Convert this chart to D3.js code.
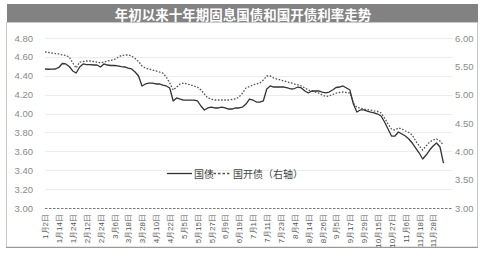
<!DOCTYPE html>
<html><head><meta charset="utf-8">
<script src="https://cdn.jsdelivr.net/npm/d3@7"></script>
<style>
html,body{margin:0;padding:0;background:#fff;}
svg{display:block;font-family:"Noto Sans CJK SC","Noto Sans",sans-serif;}
</style></head>
<body><svg id="c" width="488" height="256"></svg>
<script>
const title = "年初以来十年期固息国债和国开债利率走势";
const seriesNames = ["国债", "国开债（右轴）"];
const leftTicks = [4.80, 4.60, 4.40, 4.20, 4.00, 3.80, 3.60, 3.40, 3.20, 3.00];
const rightTicks = [6.00, 5.50, 5.00, 4.50, 4.00, 3.50, 3.00];
const dateLabels = ["1月2日","1月14日","1月24日","2月12日","2月24日","3月6日","3月18日","3月28日","4月10日","4月22日","5月5日","5月15日","5月27日","6月9日","6月19日","7月1日","7月11日","7月23日","8月4日","8月14日","8月26日","9月5日","9月17日","9月29日","10月15日","10月27日","11月6日","11月18日","11月28日"];
const govBond = [4.472,4.469,4.470,4.472,4.488,4.530,4.525,4.498,4.451,4.429,
4.493,4.525,4.519,4.519,4.514,4.514,4.493,4.525,4.514,4.509,
4.509,4.504,4.498,4.493,4.482,4.472,4.440,4.398,4.292,4.313,
4.323,4.323,4.313,4.313,4.302,4.292,4.271,4.133,4.165,4.154,
4.143,4.143,4.143,4.143,4.133,4.080,4.038,4.059,4.069,4.059,
4.059,4.069,4.059,4.048,4.048,4.059,4.059,4.069,4.101,4.154,
4.143,4.122,4.122,4.133,4.260,4.292,4.281,4.281,4.281,4.281,
4.271,4.260,4.265,4.281,4.271,4.239,4.218,4.239,4.239,4.239,
4.228,4.218,4.228,4.249,4.276,4.281,4.292,4.271,4.249,4.101,
4.016,4.038,4.038,4.027,4.016,4.006,3.995,3.974,3.911,3.836,
3.762,3.762,3.805,3.783,3.762,3.731,3.688,3.635,3.582,3.519,
3.561,3.614,3.656,3.688,3.646,3.476];
const cdbBond = [5.753,5.744,5.735,5.726,5.718,5.700,5.691,5.665,5.559,5.471,
5.576,5.585,5.594,5.594,5.585,5.576,5.559,5.576,5.594,5.603,
5.621,5.656,5.691,5.700,5.700,5.682,5.638,5.585,5.506,5.471,
5.453,5.435,5.418,5.400,5.382,5.312,5.206,5.082,5.135,5.188,
5.206,5.188,5.171,5.153,5.135,5.082,5.012,4.941,4.924,4.906,
4.906,4.906,4.906,4.906,4.915,4.924,4.959,5.029,5.118,5.144,
5.171,5.188,5.206,5.259,5.329,5.329,5.294,5.276,5.259,5.241,
5.224,5.206,5.188,5.171,5.153,5.118,5.082,5.065,5.047,5.029,
4.994,4.968,4.976,5.003,5.029,5.038,5.047,5.038,5.029,4.853,
4.774,4.765,4.747,4.738,4.729,4.712,4.703,4.676,4.588,4.482,
4.394,4.376,4.412,4.394,4.359,4.332,4.288,4.182,4.094,4.024,
4.094,4.165,4.200,4.218,4.182,4.112];

const svg = d3.select("#c");
const W = 488, H = 256;
const plotL = 45, plotR = 452, plotT = 38, plotB = 208;

// frame
svg.append("rect").attr("x",6.5).attr("y",22.5).attr("width",471).attr("height",224.5)
  .attr("fill","none").attr("stroke","#c8c8c8");
svg.append("line").attr("x1",6).attr("x2",478).attr("y1",247.5).attr("y2",247.5)
  .attr("stroke","#9a9a9a").attr("stroke-width",1.2);

// title bar
svg.append("rect").attr("x",7).attr("y",4).attr("width",471).attr("height",18).attr("fill","#828282");
svg.append("text").attr("x",243).attr("y",13.5).attr("text-anchor","middle")
  .attr("dominant-baseline","central").attr("fill","#fff").attr("font-weight","bold")
  .attr("font-size",13.5).text(title);

const idx = d3.range(govBond.length);
const x = d3.scalePoint().domain(idx).range([45, 45 + 3.465*(govBond.length-1)]);
const yL = d3.scaleLinear().domain([3.0, 4.8]).range([plotB, plotT]);
const yR = d3.scaleLinear().domain([3.0, 6.0]).range([plotB, plotT]);

// gridlines
svg.append("g").selectAll("line").data(leftTicks.filter(d=>d>3.0)).join("line")
  .attr("x1",plotL).attr("x2",plotR)
  .attr("y1",d=>Math.round(yL(d))+0.5).attr("y2",d=>Math.round(yL(d))+0.5)
  .attr("stroke","#ececec").attr("stroke-width",1);

// left axis labels
const gl = svg.append("g").attr("transform",`translate(${plotL},0)`)
  .call(d3.axisLeft(yL).tickValues(leftTicks).tickFormat(d3.format(".2f")).tickSize(0).tickPadding(12));
gl.select(".domain").remove();
gl.selectAll("text").attr("fill","#8a8a8a").attr("font-size",9.5).attr("font-family","Liberation Sans, Arial, sans-serif");

// right axis labels
const gr = svg.append("g").attr("transform",`translate(${plotR},0)`)
  .call(d3.axisRight(yR).tickValues(rightTicks).tickFormat(d3.format(".2f")).tickSize(0).tickPadding(3));
gr.select(".domain").remove();
gr.selectAll("text").attr("fill","#8a8a8a").attr("font-size",9.5).attr("font-family","Liberation Sans, Arial, sans-serif");

// bottom axis baseline (dotted)
svg.append("line").attr("x1",plotL).attr("x2",plotR).attr("y1",plotB+0.5).attr("y2",plotB+0.5)
  .attr("stroke","#777").attr("stroke-dasharray","2.5,1.5").attr("stroke-width",1);

// x labels
const labelIdx = dateLabels.map((d,i)=>i*4);
const gx = svg.append("g").attr("transform",`translate(0,${plotB})`)
  .call(d3.axisBottom(x).tickValues(labelIdx).tickFormat((d)=>dateLabels[d/4]).tickSize(0));
gx.select(".domain").remove();
gx.selectAll("text").attr("transform","rotate(-90)").attr("text-anchor","end")
  .attr("x",-6).attr("y",0).attr("dy","0.35em").attr("dx",0)
  .attr("fill","#555").attr("font-size",8);

// lines
const lineG = d3.line().x((d,i)=>x(i)).y(d=>yL(d));
const lineC = d3.line().x((d,i)=>x(i)).y(d=>yR(d));
svg.append("path").datum(cdbBond).attr("d",lineC).attr("fill","none")
  .attr("stroke","#555").attr("stroke-width",1.3).attr("stroke-dasharray","1.6,1.6");
svg.append("path").datum(govBond).attr("d",lineG).attr("fill","none")
  .attr("stroke","#333").attr("stroke-width",1.3).attr("stroke-linejoin","round");

// legend
const lg = svg.append("g").attr("font-size",10).attr("fill","#444");
lg.append("line").attr("x1",167).attr("x2",192).attr("y1",173.5).attr("y2",173.5).attr("stroke","#333").attr("stroke-width",1.3);
lg.append("text").attr("x",194).attr("y",173.5).attr("dominant-baseline","central").text(seriesNames[0]);
lg.append("line").attr("x1",209).attr("x2",231).attr("y1",173.5).attr("y2",173.5).attr("stroke","#555").attr("stroke-width",1.3).attr("stroke-dasharray","2.5,2");
lg.append("text").attr("x",233).attr("y",173.5).attr("dominant-baseline","central").text(seriesNames[1]);
</script></body></html>
